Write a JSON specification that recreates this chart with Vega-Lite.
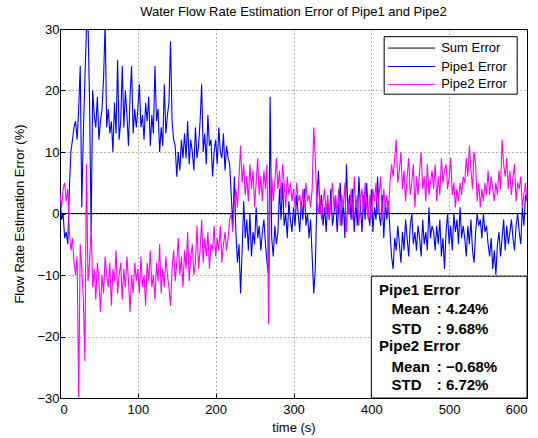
{
 "$schema": "https://vega.github.io/schema/vega-lite/v6.json",
 "width": 467, "height": 369,
 "autosize": {"type": "none"},
 "padding": {"left": 60, "top": 29, "right": 11, "bottom": 40},
 "background": "white",
 "title": {"text": "Water Flow Rate Estimation Error of Pipe1 and Pipe2", "fontSize": 13, "fontWeight": "normal", "font": "Liberation Sans", "color": "black", "offset": 4},
 "config": {
  "view": {"stroke": "black", "strokeWidth": 1},
  "axis": {"labelFont": "Liberation Sans", "labelFontSize": 13, "labelColor": "black", "titleFont": "Liberation Sans", "titleFontSize": 13, "titleFontWeight": "normal", "titleColor": "black", "grid": true, "gridColor": "black", "gridDash": [1, 3], "gridOpacity": 0.6, "tickColor": "black", "tickSize": -5, "domain": false}
 },
 "datasets": {
  "sum": [{"t":0,"v":0},{"t":100,"v":0},{"t":200,"v":0},{"t":300,"v":0},{"t":400,"v":0},{"t":500,"v":0},{"t":600,"v":0}],
  "p1": [
   {"t":0,"v":3},{"t":2,"v":-1},{"t":4,"v":0},{"t":6,"v":-4},{"t":8,"v":-3},{"t":10,"v":-5},{"t":12,"v":4},{"t":14,"v":10},{"t":16,"v":12},{"t":18,"v":14},
   {"t":20,"v":15},{"t":22,"v":12},{"t":24,"v":17},{"t":26,"v":24},{"t":28,"v":1},{"t":30,"v":13},{"t":32,"v":22},{"t":34,"v":30},{"t":36,"v":31},{"t":38,"v":18},
   {"t":40,"v":-3},{"t":42,"v":20},{"t":44,"v":16},{"t":46,"v":14},{"t":48,"v":19},{"t":50,"v":12},{"t":52,"v":15},{"t":54,"v":17},{"t":56,"v":22},{"t":58,"v":31},
   {"t":60,"v":14},{"t":62,"v":17},{"t":64,"v":13},{"t":66,"v":15},{"t":68,"v":10},{"t":70,"v":18},{"t":72,"v":13},{"t":74,"v":25},{"t":76,"v":12},{"t":78,"v":15},
   {"t":80,"v":24},{"t":82,"v":14},{"t":84,"v":20},{"t":86,"v":16},{"t":88,"v":11},{"t":90,"v":19},{"t":92,"v":24},{"t":94,"v":13},{"t":96,"v":17},{"t":98,"v":14},
   {"t":100,"v":17},{"t":102,"v":21},{"t":104,"v":14},{"t":106,"v":16},{"t":108,"v":12},{"t":110,"v":18},{"t":112,"v":15},{"t":114,"v":19},{"t":116,"v":11},{"t":118,"v":16},
   {"t":120,"v":13},{"t":122,"v":24},{"t":124,"v":15},{"t":126,"v":17},{"t":128,"v":10},{"t":130,"v":14},{"t":132,"v":11},{"t":134,"v":21},{"t":136,"v":13},{"t":138,"v":16},
   {"t":140,"v":18},{"t":142,"v":28},{"t":144,"v":15},{"t":146,"v":12},{"t":148,"v":11},{"t":150,"v":6},{"t":152,"v":10},{"t":154,"v":7},{"t":156,"v":12},{"t":158,"v":9},
   {"t":160,"v":13},{"t":162,"v":9},{"t":164,"v":15},{"t":166,"v":8},{"t":168,"v":12},{"t":170,"v":10},{"t":172,"v":7},{"t":174,"v":14},{"t":176,"v":9},{"t":178,"v":11},
   {"t":180,"v":15},{"t":182,"v":21},{"t":184,"v":10},{"t":186,"v":13},{"t":188,"v":8},{"t":190,"v":16},{"t":192,"v":11},{"t":194,"v":12},{"t":196,"v":6},{"t":198,"v":10},
   {"t":200,"v":12},{"t":202,"v":8},{"t":204,"v":14},{"t":206,"v":10},{"t":208,"v":9},{"t":210,"v":13},{"t":212,"v":7},{"t":214,"v":11},{"t":216,"v":9},{"t":218,"v":8},
   {"t":220,"v":3},{"t":222,"v":-2},{"t":224,"v":6},{"t":226,"v":-3},{"t":228,"v":-8},{"t":230,"v":-5},{"t":232,"v":-13},{"t":234,"v":-6},{"t":236,"v":2},{"t":238,"v":-4},
   {"t":240,"v":-1},{"t":242,"v":-6},{"t":244,"v":0},{"t":246,"v":-7},{"t":248,"v":-3},{"t":250,"v":-5},{"t":252,"v":1},{"t":254,"v":-4},{"t":256,"v":-2},{"t":258,"v":-6},
   {"t":260,"v":-3},{"t":262,"v":-1},{"t":264,"v":-5},{"t":266,"v":-8},{"t":268,"v":-10},{"t":270,"v":19},{"t":272,"v":-4},{"t":274,"v":-7},{"t":276,"v":-2},{"t":278,"v":-5},
   {"t":280,"v":-3},{"t":282,"v":4},{"t":284,"v":-1},{"t":286,"v":5},{"t":288,"v":-2},{"t":290,"v":0},{"t":292,"v":-4},{"t":294,"v":2},{"t":296,"v":-1},{"t":298,"v":-3},
   {"t":300,"v":1},{"t":302,"v":-2},{"t":304,"v":3},{"t":306,"v":0},{"t":308,"v":-3},{"t":310,"v":2},{"t":312,"v":-1},{"t":314,"v":4},{"t":316,"v":-2},{"t":318,"v":0},
   {"t":320,"v":-4},{"t":322,"v":-1},{"t":324,"v":-7},{"t":326,"v":-13},{"t":328,"v":-9},{"t":330,"v":2},{"t":332,"v":7},{"t":334,"v":0},{"t":336,"v":3},{"t":338,"v":-2},
   {"t":340,"v":1},{"t":342,"v":-3},{"t":344,"v":2},{"t":346,"v":-1},{"t":348,"v":4},{"t":350,"v":-2},{"t":352,"v":0},{"t":354,"v":3},{"t":356,"v":-3},{"t":358,"v":1},
   {"t":360,"v":5},{"t":362,"v":-2},{"t":364,"v":2},{"t":366,"v":-4},{"t":368,"v":8},{"t":370,"v":0},{"t":372,"v":3},{"t":374,"v":-1},{"t":376,"v":4},{"t":378,"v":-3},
   {"t":380,"v":2},{"t":382,"v":-2},{"t":384,"v":6},{"t":386,"v":1},{"t":388,"v":-3},{"t":390,"v":3},{"t":392,"v":-1},{"t":394,"v":5},{"t":396,"v":0},{"t":398,"v":-2},
   {"t":400,"v":4},{"t":402,"v":-3},{"t":404,"v":1},{"t":406,"v":-1},{"t":408,"v":6},{"t":410,"v":0},{"t":412,"v":-2},{"t":414,"v":3},{"t":416,"v":-4},{"t":418,"v":2},
   {"t":420,"v":-1},{"t":422,"v":2},{"t":424,"v":-3},{"t":426,"v":-7},{"t":428,"v":-9},{"t":430,"v":-4},{"t":432,"v":-6},{"t":434,"v":-2},{"t":436,"v":-5},{"t":438,"v":-8},
   {"t":440,"v":-3},{"t":442,"v":-6},{"t":444,"v":-1},{"t":446,"v":-4},{"t":448,"v":-7},{"t":450,"v":-2},{"t":452,"v":0},{"t":454,"v":-5},{"t":456,"v":-3},{"t":458,"v":-6},
   {"t":460,"v":-2},{"t":462,"v":-4},{"t":464,"v":-7},{"t":466,"v":-1},{"t":468,"v":-5},{"t":470,"v":-3},{"t":472,"v":-6},{"t":474,"v":1},{"t":476,"v":-4},{"t":478,"v":-2},
   {"t":480,"v":-3},{"t":482,"v":-6},{"t":484,"v":-2},{"t":486,"v":-5},{"t":488,"v":-1},{"t":490,"v":-7},{"t":492,"v":-4},{"t":494,"v":-9},{"t":496,"v":-3},{"t":498,"v":0},
   {"t":500,"v":-5},{"t":502,"v":-2},{"t":504,"v":-6},{"t":506,"v":0},{"t":508,"v":-3},{"t":510,"v":-1},{"t":512,"v":-5},{"t":514,"v":1},{"t":516,"v":-4},{"t":518,"v":-2},
   {"t":520,"v":-4},{"t":522,"v":-7},{"t":524,"v":-2},{"t":526,"v":-5},{"t":528,"v":-1},{"t":530,"v":-6},{"t":532,"v":-8},{"t":534,"v":-3},{"t":536,"v":0},{"t":538,"v":-2},
   {"t":540,"v":-1},{"t":542,"v":-4},{"t":544,"v":0},{"t":546,"v":-3},{"t":548,"v":-2},{"t":550,"v":-5},{"t":552,"v":-7},{"t":554,"v":-4},{"t":556,"v":-9},{"t":558,"v":-6},
   {"t":560,"v":-10},{"t":562,"v":-5},{"t":564,"v":-3},{"t":566,"v":-7},{"t":568,"v":-4},{"t":570,"v":-1},{"t":572,"v":-6},{"t":574,"v":-2},{"t":576,"v":-5},{"t":578,"v":-3},
   {"t":580,"v":-1},{"t":582,"v":-4},{"t":584,"v":-6},{"t":586,"v":-2},{"t":588,"v":0},{"t":590,"v":-3},{"t":592,"v":-5},{"t":594,"v":1},{"t":596,"v":-2},{"t":598,"v":3},
   {"t":600,"v":2}
  ],
  "p2": [
   {"t":0,"v":3},{"t":2,"v":1},{"t":4,"v":4},{"t":6,"v":5},{"t":8,"v":2},{"t":10,"v":4},{"t":12,"v":-3},{"t":14,"v":-6},{"t":16,"v":-4},{"t":18,"v":-8},
   {"t":20,"v":-10},{"t":22,"v":-7},{"t":24,"v":-30},{"t":26,"v":-5},{"t":28,"v":-9},{"t":30,"v":-14},{"t":32,"v":-24},{"t":34,"v":8},{"t":36,"v":-11},{"t":38,"v":-8},
   {"t":40,"v":-2},{"t":42,"v":-12},{"t":44,"v":-9},{"t":46,"v":-14},{"t":48,"v":-8},{"t":50,"v":-11},{"t":52,"v":-16},{"t":54,"v":-10},{"t":56,"v":-13},{"t":58,"v":-7},
   {"t":60,"v":-10},{"t":62,"v":-12},{"t":64,"v":-8},{"t":66,"v":-15},{"t":68,"v":-9},{"t":70,"v":-11},{"t":72,"v":-6},{"t":74,"v":-13},{"t":76,"v":-10},{"t":78,"v":-8},
   {"t":80,"v":-14},{"t":82,"v":-9},{"t":84,"v":-12},{"t":86,"v":-7},{"t":88,"v":-11},{"t":90,"v":-16},{"t":92,"v":-10},{"t":94,"v":-13},{"t":96,"v":-8},{"t":98,"v":-11},
   {"t":100,"v":-9},{"t":102,"v":-13},{"t":104,"v":-7},{"t":106,"v":-12},{"t":108,"v":-10},{"t":110,"v":-15},{"t":112,"v":-8},{"t":114,"v":-11},{"t":116,"v":-6},{"t":118,"v":-12},
   {"t":120,"v":-10},{"t":122,"v":-14},{"t":124,"v":-8},{"t":126,"v":-11},{"t":128,"v":-5},{"t":130,"v":-13},{"t":132,"v":-9},{"t":134,"v":-12},{"t":136,"v":-7},{"t":138,"v":-10},
   {"t":140,"v":-12},{"t":142,"v":-15},{"t":144,"v":-9},{"t":146,"v":-6},{"t":148,"v":-11},{"t":150,"v":-8},{"t":152,"v":-4},{"t":154,"v":-10},{"t":156,"v":-7},{"t":158,"v":-12},
   {"t":160,"v":-6},{"t":162,"v":-9},{"t":164,"v":-3},{"t":166,"v":-11},{"t":168,"v":-7},{"t":170,"v":-5},{"t":172,"v":-10},{"t":174,"v":-8},{"t":176,"v":-2},{"t":178,"v":-9},
   {"t":180,"v":-6},{"t":182,"v":-1},{"t":184,"v":-8},{"t":186,"v":-4},{"t":188,"v":-7},{"t":190,"v":-3},{"t":192,"v":-9},{"t":194,"v":-5},{"t":196,"v":-6},{"t":198,"v":-2},
   {"t":200,"v":-7},{"t":202,"v":-4},{"t":204,"v":-6},{"t":206,"v":-2},{"t":208,"v":-8},{"t":210,"v":-5},{"t":212,"v":-3},{"t":214,"v":-6},{"t":216,"v":-4},{"t":218,"v":-1},
   {"t":220,"v":0},{"t":222,"v":-3},{"t":224,"v":2},{"t":226,"v":4},{"t":228,"v":1},{"t":230,"v":6},{"t":232,"v":11},{"t":234,"v":5},{"t":236,"v":8},{"t":238,"v":3},
   {"t":240,"v":6},{"t":242,"v":2},{"t":244,"v":8},{"t":246,"v":4},{"t":248,"v":7},{"t":250,"v":1},{"t":252,"v":5},{"t":254,"v":9},{"t":256,"v":3},{"t":258,"v":6},
   {"t":260,"v":2},{"t":262,"v":7},{"t":264,"v":4},{"t":266,"v":8},{"t":268,"v":-18},{"t":270,"v":3},{"t":272,"v":6},{"t":274,"v":2},{"t":276,"v":5},{"t":278,"v":9},
   {"t":280,"v":4},{"t":282,"v":7},{"t":284,"v":2},{"t":286,"v":8},{"t":288,"v":5},{"t":290,"v":1},{"t":292,"v":6},{"t":294,"v":3},{"t":296,"v":5},{"t":298,"v":2},
   {"t":300,"v":4},{"t":302,"v":1},{"t":304,"v":5},{"t":306,"v":2},{"t":308,"v":3},{"t":310,"v":0},{"t":312,"v":4},{"t":314,"v":1},{"t":316,"v":5},{"t":318,"v":2},
   {"t":320,"v":3},{"t":322,"v":1},{"t":324,"v":4},{"t":326,"v":14},{"t":328,"v":9},{"t":330,"v":2},{"t":332,"v":0},{"t":334,"v":3},{"t":336,"v":-1},{"t":338,"v":2},
   {"t":340,"v":4},{"t":342,"v":0},{"t":344,"v":3},{"t":346,"v":-1},{"t":348,"v":2},{"t":350,"v":5},{"t":352,"v":1},{"t":354,"v":3},{"t":356,"v":0},{"t":358,"v":4},
   {"t":360,"v":-2},{"t":362,"v":3},{"t":364,"v":1},{"t":366,"v":5},{"t":368,"v":-3},{"t":370,"v":2},{"t":372,"v":0},{"t":374,"v":4},{"t":376,"v":-1},{"t":378,"v":6},
   {"t":380,"v":1},{"t":382,"v":3},{"t":384,"v":-2},{"t":386,"v":2},{"t":388,"v":4},{"t":390,"v":0},{"t":392,"v":5},{"t":394,"v":1},{"t":396,"v":-1},{"t":398,"v":3},
   {"t":400,"v":-1},{"t":402,"v":4},{"t":404,"v":2},{"t":406,"v":5},{"t":408,"v":0},{"t":410,"v":3},{"t":412,"v":6},{"t":414,"v":-1},{"t":416,"v":4},{"t":418,"v":1},
   {"t":420,"v":3},{"t":422,"v":0},{"t":424,"v":5},{"t":426,"v":8},{"t":428,"v":6},{"t":430,"v":9},{"t":432,"v":12},{"t":434,"v":5},{"t":436,"v":7},{"t":438,"v":10},
   {"t":440,"v":4},{"t":442,"v":7},{"t":444,"v":2},{"t":446,"v":6},{"t":448,"v":9},{"t":450,"v":3},{"t":452,"v":5},{"t":454,"v":8},{"t":456,"v":1},{"t":458,"v":6},
   {"t":460,"v":3},{"t":462,"v":7},{"t":464,"v":10},{"t":466,"v":4},{"t":468,"v":6},{"t":470,"v":2},{"t":472,"v":8},{"t":474,"v":3},{"t":476,"v":5},{"t":478,"v":7},
   {"t":480,"v":4},{"t":482,"v":8},{"t":484,"v":2},{"t":486,"v":6},{"t":488,"v":3},{"t":490,"v":9},{"t":492,"v":5},{"t":494,"v":7},{"t":496,"v":8},{"t":498,"v":4},
   {"t":500,"v":6},{"t":502,"v":9},{"t":504,"v":3},{"t":506,"v":5},{"t":508,"v":1},{"t":510,"v":4},{"t":512,"v":2},{"t":514,"v":5},{"t":516,"v":3},{"t":518,"v":6},
   {"t":520,"v":5},{"t":522,"v":9},{"t":524,"v":6},{"t":526,"v":11},{"t":528,"v":7},{"t":530,"v":4},{"t":532,"v":10},{"t":534,"v":8},{"t":536,"v":2},{"t":538,"v":5},
   {"t":540,"v":1},{"t":542,"v":4},{"t":544,"v":2},{"t":546,"v":5},{"t":548,"v":3},{"t":550,"v":7},{"t":552,"v":3},{"t":554,"v":6},{"t":556,"v":4},{"t":558,"v":2},
   {"t":560,"v":5},{"t":562,"v":3},{"t":564,"v":7},{"t":566,"v":4},{"t":568,"v":12},{"t":570,"v":8},{"t":572,"v":6},{"t":574,"v":9},{"t":576,"v":4},{"t":578,"v":7},
   {"t":580,"v":3},{"t":582,"v":6},{"t":584,"v":8},{"t":586,"v":2},{"t":588,"v":5},{"t":590,"v":4},{"t":592,"v":6},{"t":594,"v":1},{"t":596,"v":3},{"t":598,"v":5},
   {"t":600,"v":2}
  ],
  "boxes": [{"t":400,"t2":600,"v":-30,"v2":-10.2},{"t":416.5,"t2":587.4,"v":19.4,"v2":28.75}],
  "legend": [
   {"t":421.6,"t2":482,"v":26.9,"s":"Sum Error"},
   {"t":421.6,"t2":482,"v":23.9,"s":"Pipe1 Error"},
   {"t":421.6,"t2":482,"v":21.0,"s":"Pipe2 Error"}
  ],
  "stats": [
   {"t":410,"v":-12.4,"label":"Pipe1 Error"},
   {"t":426,"v":-15.6,"label":"Mean"},
   {"t":484,"v":-15.6,"label":": 4.24%"},
   {"t":426,"v":-18.8,"label":"STD"},
   {"t":484,"v":-18.8,"label":": 9.68%"},
   {"t":410,"v":-21.5,"label":"Pipe2 Error"},
   {"t":426,"v":-24.9,"label":"Mean"},
   {"t":484,"v":-24.9,"label":": −0.68%"},
   {"t":426,"v":-27.9,"label":"STD"},
   {"t":484,"v":-27.9,"label":": 6.72%"}
  ]
 },
 "encoding": {
  "x": {"field": "t", "type": "quantitative", "scale": {"domain": [0, 600], "nice": false, "zero": false}, "axis": {"values": [0, 100, 200, 300, 400, 500, 600], "title": "time (s)", "labelPadding": 10, "titlePadding": 5}},
  "y": {"field": "v", "type": "quantitative", "scale": {"domain": [-30, 30], "nice": false}, "axis": {"values": [-30, -20, -10, 0, 10, 20, 30], "title": "Flow Rate Estimation Error (%)", "labelPadding": 6, "titlePadding": 10}}
 },
 "layer": [
  {"data": {"name": "sum"}, "mark": {"type": "line", "strokeWidth": 1, "clip": true},
   "encoding": {"color": {"datum": "Sum Error", "type": "nominal", "scale": {"domain": ["Sum Error", "Pipe1 Error", "Pipe2 Error"], "range": ["#000000", "#0000ff", "#ff00ff"]}, "legend": null}}},
  {"data": {"name": "p1"}, "mark": {"type": "line", "strokeWidth": 1.1, "clip": true},
   "encoding": {"color": {"datum": "Pipe1 Error", "type": "nominal", "legend": null}}},
  {"data": {"name": "p2"}, "mark": {"type": "line", "strokeWidth": 1.1, "clip": true},
   "encoding": {"color": {"datum": "Pipe2 Error", "type": "nominal", "legend": null}}},
  {"data": {"name": "boxes"}, "mark": {"type": "rect", "fill": "white", "stroke": "black", "strokeWidth": 1},
   "encoding": {"x2": {"field": "t2"}, "y2": {"field": "v2"}}},
  {"data": {"name": "legend"}, "mark": {"type": "rule", "strokeWidth": 1},
   "encoding": {"x2": {"field": "t2"}, "color": {"field": "s", "type": "nominal", "legend": null}}},
  {"data": {"name": "legend"}, "mark": {"type": "text", "align": "left", "baseline": "middle", "font": "Liberation Sans", "fontSize": 13, "color": "black"},
   "encoding": {"x": {"datum": 489.7, "type": "quantitative"}, "text": {"field": "s"}}},
  {"data": {"name": "stats"}, "mark": {"type": "text", "align": "left", "baseline": "middle", "font": "Liberation Sans", "fontSize": 15, "fontWeight": "bold", "color": "black"},
   "encoding": {"text": {"field": "label"}}}
 ]
}
